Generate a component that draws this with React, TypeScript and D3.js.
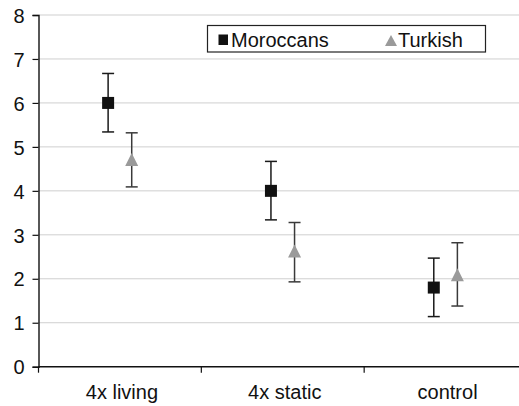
import React, { useEffect, useRef } from 'react';
import * as d3 from 'd3';

const categories = ['4x living', '4x static', 'control'];
const seriesNames = ['Moroccans', 'Turkish'];
const moroccansMean = [6.0, 4.0, 1.8];
const moroccansLow = [5.34, 3.34, 1.14];
const moroccansHigh = [6.67, 4.67, 2.47];
const turkishMean = [4.7, 2.62, 2.08];
const turkishLow = [4.09, 1.93, 1.38];
const turkishHigh = [5.32, 3.28, 2.82];
const yTicks = [0, 1, 2, 3, 4, 5, 6, 7, 8];

const W = 519;
const H = 406;
const FONT = '"Liberation Sans", Arial, Helvetica, sans-serif';

const App = () => {
  const svgRef = useRef<SVGSVGElement>(null);

  useEffect(() => {
    const svg = d3.select(svgRef.current);
    svg.selectAll('*').remove();

    const left = 38.5;
    const right = 527;
    const top = 15;
    const bottom = 366.7;

    const x = d3.scaleBand().domain(categories).range([left, right]).padding(0);
    const y = d3.scaleLinear().domain([0, 8]).range([bottom, top]);

    // gridlines
    svg.append('g')
      .selectAll('line')
      .data(yTicks.filter(d => d > 0))
      .join('line')
      .attr('x1', left)
      .attr('x2', W)
      .attr('y1', d => y(d))
      .attr('y2', d => y(d))
      .attr('stroke', '#cfcfcf')
      .attr('stroke-width', 1);

    // y axis
    const yAxis = svg.append('g')
      .attr('transform', `translate(${left},0)`)
      .call(d3.axisLeft(y).tickValues(yTicks).tickSize(6).tickPadding(8).tickFormat(d3.format('d')));
    yAxis.select('.domain').attr('stroke', '#111').attr('stroke-width', 1.4);
    yAxis.selectAll('.tick line').attr('stroke', '#111').attr('stroke-width', 1.2);
    yAxis.selectAll('.tick text')
      .attr('font-family', FONT)
      .attr('font-size', 20)
      .attr('fill', '#111')
      .attr('dy', '0.36em');

    // x axis
    const xAxis = svg.append('g')
      .attr('transform', `translate(0,${bottom})`);
    xAxis.append('line')
      .attr('x1', left).attr('x2', W)
      .attr('y1', 0).attr('y2', 0)
      .attr('stroke', '#111').attr('stroke-width', 1.4);
    const bounds = categories.map(c => x(c) as number).concat([right]);
    xAxis.selectAll('line.tk')
      .data(bounds)
      .join('line')
      .attr('class', 'tk')
      .attr('x1', d => d).attr('x2', d => d)
      .attr('y1', 0).attr('y2', 6)
      .attr('stroke', '#111').attr('stroke-width', 1.2);
    xAxis.selectAll('text')
      .data(categories)
      .join('text')
      .attr('x', d => (x(d) as number) + x.bandwidth() / 2 + 2)
      .attr('y', 32)
      .attr('text-anchor', 'middle')
      .attr('font-family', FONT)
      .attr('font-size', 20)
      .attr('fill', '#111')
      .text(d => d);

    const off = 11.8;
    const cx = (i: number, s: number) => (x(categories[i]) as number) + x.bandwidth() / 2 + (s === 0 ? -off : off);

    const series = [
      { mean: moroccansMean, low: moroccansLow, high: moroccansHigh, bar: '#1a1a1a' },
      { mean: turkishMean, low: turkishLow, high: turkishHigh, bar: '#3a3a3a' },
    ];

    series.forEach((s, si) => {
      const g = svg.append('g');
      const idx = d3.range(categories.length);
      g.selectAll('line.v')
        .data(idx)
        .join('line')
        .attr('class', 'v')
        .attr('x1', i => cx(i, si)).attr('x2', i => cx(i, si))
        .attr('y1', i => y(s.low[i])).attr('y2', i => y(s.high[i]))
        .attr('stroke', s.bar).attr('stroke-width', 1.5);
      ['low', 'high'].forEach(k => {
        g.selectAll(`line.c${k}`)
          .data(idx)
          .join('line')
          .attr('class', `c${k}`)
          .attr('x1', i => cx(i, si) - 6).attr('x2', i => cx(i, si) + 6)
          .attr('y1', i => y((s as any)[k][i])).attr('y2', i => y((s as any)[k][i]))
          .attr('stroke', s.bar).attr('stroke-width', 1.5);
      });
      if (si === 0) {
        g.selectAll('rect')
          .data(idx)
          .join('rect')
          .attr('x', i => cx(i, si) - 6)
          .attr('y', i => y(s.mean[i]) - 6)
          .attr('width', 12).attr('height', 12)
          .attr('fill', '#111');
      } else {
        g.selectAll('path')
          .data(idx)
          .join('path')
          .attr('d', i => {
            const px = cx(i, si);
            const py = y(s.mean[i]);
            return `M${px},${py - 7}L${px + 6.5},${py + 6}L${px - 6.5},${py + 6}Z`;
          })
          .attr('fill', '#9a9a9a');
      }
    });

    // legend
    const lg = svg.append('g');
    lg.append('rect')
      .attr('x', 207.5).attr('y', 25.5)
      .attr('width', 278).attr('height', 26.5)
      .attr('fill', '#fff').attr('stroke', '#222').attr('stroke-width', 1.2);
    lg.append('rect')
      .attr('x', 218.5).attr('y', 34.5).attr('width', 9.5).attr('height', 10.5)
      .attr('fill', '#111');
    lg.append('path')
      .attr('d', 'M391,35L397,46L385,46Z')
      .attr('fill', '#9a9a9a');
    lg.selectAll('text')
      .data(seriesNames)
      .join('text')
      .attr('x', (d, i) => (i === 0 ? 231 : 398))
      .attr('y', 46.5)
      .attr('font-family', FONT)
      .attr('font-size', 20)
      .attr('fill', '#111')
      .text(d => d);
  }, []);

  return (
    <div style={{ position: 'absolute', left: 0, top: 0 }}>
      <svg ref={svgRef} width={W} height={H} style={{ display: 'block', background: '#fff' }} />
    </div>
  );
};

export default App;
